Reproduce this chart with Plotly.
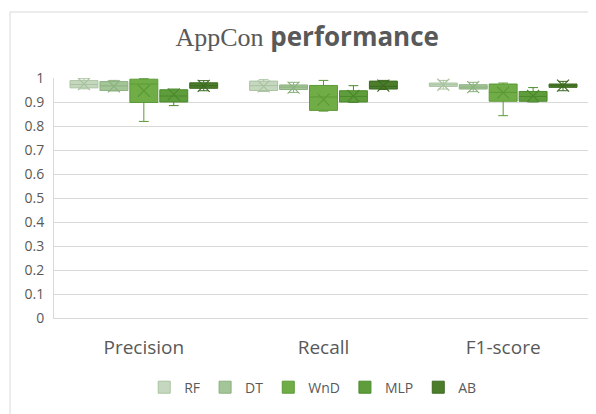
import plotly.graph_objects as go

metrics = ["Precision", "Recall", "F1-score"]
models = ["RF", "DT", "WnD", "MLP", "AB"]

# rows: models, cols: metrics (Precision, Recall, F1-score)
lower = [[0.955, 0.944, 0.954],
         [0.946, 0.940, 0.943],
         [0.819, 0.862, 0.843],
         [0.885, 0.898, 0.900],
         [0.947, 0.952, 0.947]]
q1 = [[0.959, 0.948, 0.965],
      [0.948, 0.952, 0.954],
      [0.898, 0.865, 0.903],
      [0.900, 0.900, 0.903],
      [0.957, 0.954, 0.961]]
median = [[0.973, 0.968, 0.972],
          [0.967, 0.962, 0.962],
          [0.975, 0.921, 0.940],
          [0.925, 0.923, 0.923],
          [0.968, 0.965, 0.968]]
q3 = [[0.989, 0.987, 0.979],
      [0.985, 0.971, 0.972],
      [0.995, 0.969, 0.975],
      [0.951, 0.947, 0.944],
      [0.980, 0.987, 0.975]]
upper = [[0.997, 0.993, 0.990],
         [0.990, 0.982, 0.982],
         [0.997, 0.990, 0.979],
         [0.954, 0.968, 0.960],
         [0.989, 0.990, 0.986]]
mean = [[0.975, 0.965, 0.972],
        [0.965, 0.960, 0.962],
        [0.947, 0.910, 0.939],
        [0.932, 0.925, 0.925],
        [0.967, 0.968, 0.968]]

fills = ["#c5d8bf", "#a4c598", "#70ad47", "#5f9c3b", "#4b7d2b"]
edges = ["#a9c3a0", "#8bb17e", "#5c9a36", "#4b8a2c", "#3c6a20"]

fig = go.Figure()
for i, m in enumerate(models):
    fig.add_trace(go.Box(
        name=m, x=metrics,
        q1=q1[i], median=median[i], q3=q3[i],
        lowerfence=lower[i], upperfence=upper[i],
        fillcolor=fills[i], line=dict(color=edges[i], width=1),
        whiskerwidth=0.35, offsetgroup=m, hoverinfo="skip"
    ))
# mean markers (the X inside each box)
for i, m in enumerate(models):
    fig.add_trace(go.Scatter(
        x=metrics, y=mean[i], mode="markers", offsetgroup=m,
        marker=dict(symbol="x-thin-open", size=12, color=edges[i],
                    line=dict(color=edges[i], width=1.2)),
        showlegend=False, hoverinfo="skip"
    ))

grid = "#d9d9d9"
fig.update_layout(
    width=596, height=414,
    margin=dict(l=46, r=11, t=70, b=104),
    paper_bgcolor="white", plot_bgcolor="white",
    boxmode="group", boxgap=0.167, boxgroupgap=0.067,
    scattermode="group", scattergap=0.167,
    font=dict(family="Open Sans, Noto Sans, sans-serif", color="#595959"),
    title=dict(
        text="<span style='font-family:Liberation Serif'>AppCon</span> <b>performance</b>",
        x=0.502, xanchor="center", y=0.93, yanchor="middle",
        font=dict(size=26, color="#595959", family="Open Sans, sans-serif")),
    legend=dict(orientation="h", x=0.48, xanchor="center", y=-0.29,
                yanchor="middle", font=dict(size=14, color="#595959"),
                itemwidth=30, tracegroupgap=0),
    shapes=[
        dict(type="line", xref="paper", yref="paper", x0=-0.0816, x1=1.05,
             y0=1.275, y1=1.275, line=dict(color=grid, width=1)),
        dict(type="line", xref="paper", yref="paper", x0=-0.0816, x1=-0.0816,
             y0=1.275, y1=-0.45, line=dict(color=grid, width=1)),
    ],
)
fig.update_yaxes(range=[0, 1], dtick=0.1, showgrid=True, gridcolor=grid,
                 gridwidth=1, zeroline=False, showline=True, linecolor=grid,
                 ticks="", tickfont=dict(size=14, color="#595959"),
                 ticklabelstandoff=6)
fig.update_xaxes(showgrid=False, showline=True, linecolor=grid, ticks="",
                 tickfont=dict(size=19, color="#595959"),
                 ticklabelstandoff=12)

fig.write_html("out.html")
